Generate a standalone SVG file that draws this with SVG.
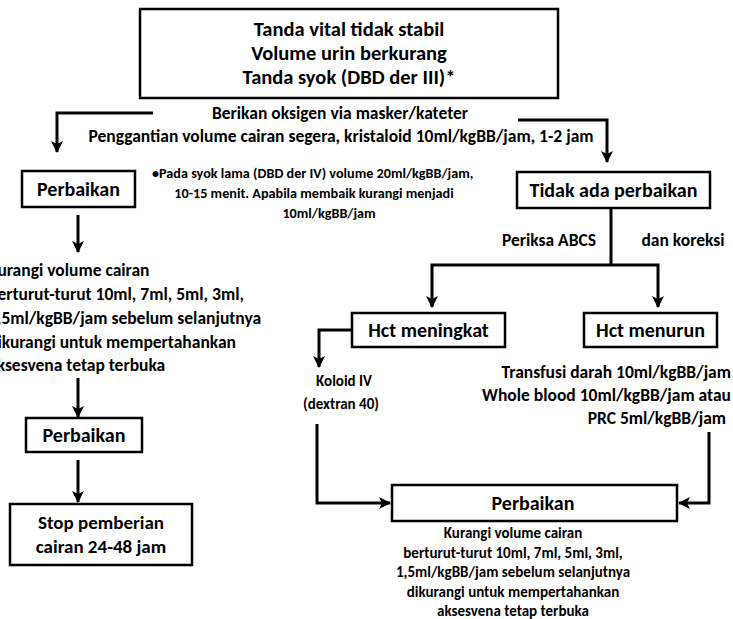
<svg xmlns="http://www.w3.org/2000/svg" width="733" height="619" viewBox="0 0 733 619">
  <style>
    text { font-family: Carlito, "Liberation Sans Narrow", "DejaVu Sans Condensed", "Liberation Sans", sans-serif; font-weight: bold; fill: #000; }
    .box { fill: #fff; stroke: #000; stroke-width: 2.5; }
    .c { text-anchor: middle; }
    .e { text-anchor: end; }
    .link { fill: none; stroke: #000; stroke-width: 3; }
    .arr { marker-end: url(#head); }
    .t20 { font-size: 20.5px; }
    .tb { font-size: 20px; }
    .t19 { font-size: 19px; }
    .t17 { font-size: 17.5px; }
    .t15 { font-size: 15px; }
    .t14 { font-size: 14.2px; }
  </style>
  <defs>
    <marker id="head" markerUnits="userSpaceOnUse" markerWidth="14" markerHeight="14" refX="11" refY="6" orient="auto">
      <path d="M0,0 L12,6 L0,12 L3,6 Z" fill="#000"/>
    </marker>
  </defs>
  <rect width="733" height="619" fill="#fff"/>

  <!-- connectors -->
  <g id="connectors">
    <path class="link arr" d="M153,113 H57 V152"/>
    <path class="link arr" d="M518,120 H607 V162"/>
    <path class="link arr" d="M78,215 V252"/>
    <path class="link" d="M611,208 V265"/>
    <path class="link arr" d="M611,265 H432 V307"/>
    <path class="link arr" d="M611,265 H658 V307"/>
    <path class="link arr" d="M352,330 H319 V367"/>
    <path class="link arr" d="M78,378 V417"/>
    <path class="link arr" d="M78,460 V502"/>
    <path class="link arr" d="M317,424 V503 H390"/>
    <path class="link arr" d="M709,432 V503 H679"/>
  </g>

  <!-- start -->
  <g id="n-start">
    <rect class="box" x="140" y="9" width="418" height="89"/>
    <text class="c t20" x="349" y="36">Tanda vital tidak stabil</text>
    <text class="c t20" x="349" y="60">Volume urin berkurang</text>
    <text class="c t20" x="349" y="84">Tanda syok (DBD der III)*</text>
  </g>

  <g id="n-action">
    <text class="c t17" x="340" y="119">Berikan oksigen via masker/kateter</text>
    <text class="c t17" x="341" y="142">Penggantian volume cairan segera, kristaloid 10ml/kgBB/jam, 1-2 jam</text>
  </g>

  <g id="n-note">
    <text class="t14" x="152" y="178">•Pada syok lama (DBD der IV) volume 20ml/kgBB/jam,</text>
    <text class="c t14" x="314" y="198">10-15 menit. Apabila membaik kurangi menjadi</text>
    <text class="c t14" x="329" y="218">10ml/kgBB/jam</text>
  </g>

  <!-- left branch -->
  <g id="n-perbaikan-1">
    <rect class="box" x="22" y="171" width="113" height="36"/>
    <text class="c tb" x="78.5" y="196">Perbaikan</text>
  </g>

  <g id="n-kurangi-1">
    <text class="t17" x="-12" y="276">Kurangi volume cairan</text>
    <text class="t17" x="-12" y="300">berturut-turut 10ml, 7ml, 5ml, 3ml,</text>
    <text class="t17" x="-12" y="324">1,5ml/kgBB/jam sebelum selanjutnya</text>
    <text class="t17" x="-12" y="348">dikurangi untuk mempertahankan</text>
    <text class="t17" x="-12" y="371">aksesvena tetap terbuka</text>
  </g>

  <g id="n-perbaikan-2">
    <rect class="box" x="26" y="418" width="116" height="34"/>
    <text class="c tb" x="84" y="442">Perbaikan</text>
  </g>

  <g id="n-stop">
    <rect class="box" x="10" y="504" width="182" height="61"/>
    <text class="c t19" x="101" y="529">Stop pemberian</text>
    <text class="c t19" x="101" y="553">cairan 24-48 jam</text>
  </g>

  <!-- right branch -->
  <g id="n-tidak">
    <rect class="box" x="517" y="172" width="193" height="36"/>
    <text class="c tb" x="613.5" y="197">Tidak ada perbaikan</text>
  </g>

  <g id="n-abcs">
    <text class="c t17" x="549" y="246">Periksa ABCS</text>
    <text class="c t17" x="683" y="246">dan koreksi</text>
  </g>

  <g id="n-hct-naik">
    <rect class="box" x="352" y="313" width="153" height="34"/>
    <text class="c tb" x="428.5" y="337">Hct meningkat</text>
  </g>

  <g id="n-hct-turun">
    <rect class="box" x="584" y="313" width="133" height="34"/>
    <text class="c tb" x="650.5" y="337">Hct menurun</text>
  </g>

  <g id="n-koloid">
    <text class="c t15" x="344" y="386">Koloid IV</text>
    <text class="c t15" x="341" y="409">(dextran 40)</text>
  </g>

  <g id="n-transfusi">
    <text class="e t17" x="731" y="378">Transfusi darah 10ml/kgBB/jam</text>
    <text class="e t17" x="731" y="401">Whole blood 10ml/kgBB/jam atau</text>
    <text class="e t17" x="726" y="424">PRC 5ml/kgBB/jam</text>
  </g>

  <g id="n-perbaikan-3">
    <rect class="box" x="392" y="485" width="285" height="36"/>
    <text class="c tb" x="533" y="510">Perbaikan</text>
  </g>

  <g id="n-kurangi-3">
    <text class="c t15" x="513" y="538">Kurangi volume cairan</text>
    <text class="c t15" x="513" y="557.5">berturut-turut 10ml, 7ml, 5ml, 3ml,</text>
    <text class="c t15" x="513" y="577">1,5ml/kgBB/jam sebelum selanjutnya</text>
    <text class="c t15" x="513" y="596.5">dikurangi untuk mempertahankan</text>
    <text class="c t15" x="513" y="616">aksesvena tetap terbuka</text>
  </g>
</svg>
